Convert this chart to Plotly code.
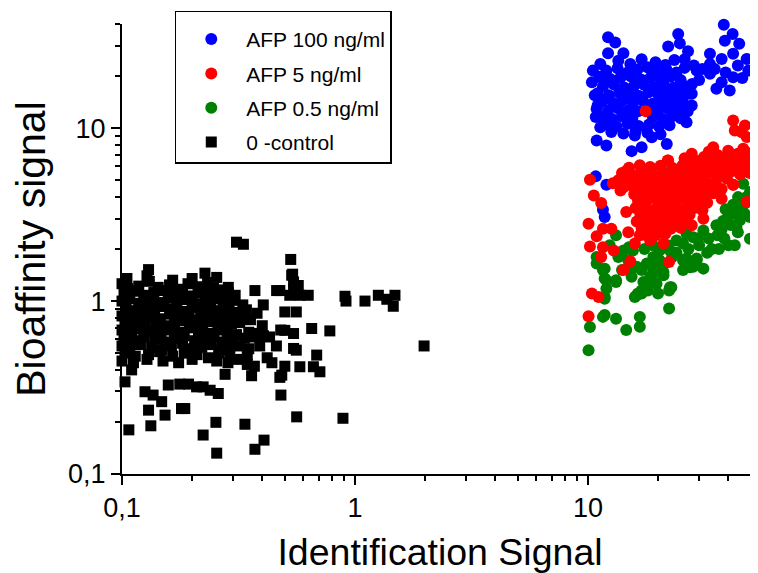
import plotly.graph_objects as go

# ---------------- data ----------------
ctrl_x = [
    0.100, 0.106, 0.118, 0.131, 0.143, 0.160, 0.176, 0.192, 0.212, 0.233, 0.247, 0.266,
    0.102, 0.112, 0.124, 0.137, 0.150, 0.165, 0.182, 0.200, 0.220, 0.241, 0.262, 0.286, 0.306,
    0.100, 0.108, 0.118, 0.130, 0.144, 0.158, 0.172, 0.190, 0.207, 0.228, 0.250, 0.272, 0.298, 0.330,
    0.104, 0.113, 0.125, 0.138, 0.151, 0.166, 0.183, 0.200, 0.218, 0.240, 0.262, 0.288, 0.315, 0.342,
    0.100, 0.108, 0.120, 0.132, 0.146, 0.160, 0.176, 0.193, 0.210, 0.230, 0.252, 0.276, 0.302, 0.330, 0.356,
    0.103, 0.114, 0.126, 0.140, 0.154, 0.168, 0.185, 0.203, 0.222, 0.245, 0.268, 0.295, 0.320,
    0.100, 0.110, 0.120, 0.133, 0.147, 0.162, 0.178, 0.195, 0.213, 0.235, 0.258, 0.283, 0.310, 0.350, 0.385,
    0.102, 0.112, 0.124, 0.138, 0.152, 0.168, 0.185, 0.205, 0.225, 0.248, 0.270, 0.300, 0.335, 0.370, 0.405,
    0.100, 0.108, 0.120, 0.134, 0.148, 0.163, 0.182, 0.200, 0.220, 0.242, 0.265, 0.290, 0.320, 0.350,
    0.103, 0.114, 0.130, 0.145, 0.165, 0.185, 0.210, 0.235, 0.260, 0.290, 0.315, 0.345,
    0.100, 0.112, 0.128, 0.150, 0.175, 0.200, 0.255, 0.285, 0.345,
    0.105, 0.130, 0.128, 0.227, 0.255, 0.286, 0.200, 0.165,
    0.38, 0.40, 0.43, 0.39, 0.42, 0.37, 0.44, 0.46, 0.48, 0.36,
    0.372, 0.404, 0.461, 0.535, 0.545, 0.530, 0.540, 0.545, 0.571, 0.525, 0.580, 0.630, 0.476,
    0.906, 0.915, 1.104, 1.26, 1.37, 1.485, 1.46, 1.98,
    0.500, 0.560, 0.652, 0.780, 0.685, 0.500, 0.545, 0.545, 0.560, 0.580, 0.663, 0.707, 0.500,
    0.485, 0.476, 0.481, 0.562, 0.888,
    0.310, 0.332, 0.107, 0.133, 0.130, 0.1255, 0.136, 0.148, 0.153, 0.180, 0.186, 0.158, 0.177,
    0.193, 0.209, 0.223, 0.239, 0.259, 0.277, 0.253, 0.223, 0.255, 0.337, 0.372, 0.407, 0.103, 0.110,
]
ctrl_y = [
    1.26, 1.18, 1.22, 1.30, 1.20, 1.24, 1.17, 1.26, 1.21, 1.28, 1.19, 1.16,
    1.10, 1.14, 1.08, 1.12, 1.15, 1.09, 1.13, 1.07, 1.11, 1.14, 1.06, 1.12, 1.08,
    1.00, 1.03, 0.97, 1.01, 0.98, 1.04, 0.99, 1.02, 0.96, 1.00, 1.03, 0.98, 1.01, 0.95,
    0.91, 0.88, 0.92, 0.89, 0.93, 0.90, 0.87, 0.91, 0.89, 0.92, 0.88, 0.90, 0.86, 0.89,
    0.82, 0.80, 0.83, 0.81, 0.79, 0.84, 0.80, 0.82, 0.78, 0.83, 0.81, 0.79, 0.82, 0.80, 0.78,
    0.75, 0.73, 0.76, 0.74, 0.72, 0.75, 0.77, 0.73, 0.74, 0.76, 0.72, 0.74, 0.75,
    0.68, 0.66, 0.69, 0.67, 0.65, 0.68, 0.66, 0.70, 0.67, 0.65, 0.68, 0.66, 0.64, 0.66, 0.65,
    0.61, 0.59, 0.62, 0.60, 0.58, 0.61, 0.63, 0.59, 0.60, 0.62, 0.58, 0.60, 0.61, 0.62, 0.63,
    0.55, 0.53, 0.56, 0.54, 0.52, 0.55, 0.57, 0.53, 0.54, 0.56, 0.52, 0.54, 0.55, 0.53,
    0.50, 0.48, 0.49, 0.51, 0.48, 0.50, 0.49, 0.47, 0.50, 0.48, 0.46, 0.49,
    0.45, 0.44, 0.46, 0.45, 0.44, 0.46, 0.45, 0.44, 0.43,
    1.35, 1.52, 1.40, 1.45, 1.37, 1.20, 1.35, 1.32,
    0.85, 0.72, 0.62, 0.55, 0.47, 0.42, 0.44, 0.55, 0.68, 0.37,
    1.15, 0.95, 1.15, 1.41, 1.18, 1.74, 1.43, 1.29, 1.23, 1.08, 1.08, 1.08, 1.15,
    1.066, 1.00, 1.00, 1.08, 1.024, 1.08, 0.933, 0.55,
    0.865, 0.865, 0.694, 0.672, 0.487, 0.677, 0.649, 0.532, 0.52, 0.417, 0.417, 0.39, 0.42,
    0.373, 0.362, 0.286, 0.214, 0.21,
    2.19, 2.13, 0.18, 0.19, 0.234, 0.299, 0.286, 0.262, 0.219, 0.239, 0.239, 0.327, 0.331,
    0.331, 0.319, 0.319, 0.305, 0.292, 0.377, 0.199, 0.168, 0.132, 0.194, 0.139, 0.157, 0.341, 0.40,
]

afp100_x = [
    13.5, 15.2, 17.0, 19.5, 21.5, 23.5,
    12.0, 13.4, 14.8, 16.3, 18.0, 19.8, 21.7, 24.0, 26.0,
    11.2, 12.5, 13.8, 15.3, 16.9, 18.6, 20.5, 22.6, 25.0,
    11.6, 12.9, 14.3, 15.8, 17.4, 19.2, 21.2, 23.4, 25.8, 28.0,
    11.0, 12.3, 13.6, 15.0, 16.5, 18.2, 20.1, 22.2, 24.5, 27.0,
    11.5, 12.8, 14.1, 15.6, 17.2, 19.0, 21.0, 23.2, 25.6,
    10.9, 12.2, 13.5, 14.9, 16.4, 18.1, 20.0, 22.0, 24.3, 26.8,
    11.4, 12.7, 14.0, 15.5, 19.0, 21.0, 23.0, 25.0,
    12.0, 13.3, 14.8, 16.5, 18.3, 20.2, 22.4,
    12.6, 14.2, 16.0, 18.0, 20.5,
    12.2, 13.1, 12.2, 14.2, 11.3, 10.5, 10.4, 11.8, 24.4, 24.8, 22.1, 26.9,
    38.3, 41.8, 38.7, 44.6, 33.4, 37.5, 42.0, 48.0, 48.8, 42.0, 37.5, 35.6, 40.6,
    29.3, 33.4, 27.9, 27.9, 26.5, 21.8, 15.4, 17.0, 10.9, 12.0, 15.9, 18.8, 10.8, 11.3,
    10.8, 12.0, 11.6, 11.8, 22.5, 28.5, 31.0, 30.0, 26.0, 33.4, 35.0, 39.0, 44.0, 46.0,
    11.0, 10.7,
]
afp100_y = [
    24.5, 23.5, 25.0, 24.0, 23.2, 24.8,
    21.5, 22.2, 21.0, 21.8, 22.5, 21.2, 21.9, 21.0, 22.3,
    19.8, 19.2, 19.6, 19.9, 19.1, 19.7, 19.3, 19.8, 19.0,
    17.4, 17.9, 17.2, 17.6, 17.8, 17.3, 17.7, 17.2, 17.6, 18.0,
    15.9, 15.5, 16.0, 15.7, 15.4, 16.1, 15.6, 15.9, 15.5, 15.8,
    14.3, 14.0, 14.5, 14.1, 14.4, 13.9, 14.2, 14.5, 14.0,
    12.9, 12.6, 13.0, 12.7, 12.5, 12.9, 12.6, 13.0, 12.8, 12.5,
    11.6, 11.3, 11.7, 11.4, 11.6, 11.3, 11.7, 11.4,
    10.5, 10.2, 10.6, 10.3, 10.5, 10.2, 10.4,
    9.5, 9.3, 9.6, 9.4, 9.2,
    33.5, 31.3, 27.1, 27.1, 23.5, 21.5, 18.4, 18.8, 35.0, 30.9, 29.6, 27.8,
    39.6, 35.0, 32.0, 30.7, 26.9, 25.1, 26.9, 25.1, 21.5, 19.7, 18.4, 16.9, 16.5,
    21.5, 20.6, 15.8, 13.5, 10.8, 8.1, 7.36, 7.76, 8.48, 7.94, 9.06, 8.86, 11.6, 10.1,
    5.26, 4.7, 3.37, 3.06, 5.56, 23.0, 22.0, 19.0, 25.0, 23.5, 22.0, 21.0, 23.0, 19.5,
    13.5, 15.5,
]

afp5_x = [
    33, 36, 40, 44, 47.5, 50,
    22, 26, 29, 31.5, 34.5, 38, 42, 45.5, 49,
    15, 16.7, 18.5, 20.5, 23, 25.5, 28, 30.5, 33, 36, 39.5, 43, 47, 51,
    14, 15.5, 17, 18.8, 20.8, 23, 25.3, 27.8, 30.5, 33.5, 37, 41, 45, 49.5,
    13.5, 15, 16.5, 18, 19.8, 21.8, 24, 26.4, 29, 32, 35.5, 39.5,
    14.2, 15.6, 17.1, 18.8, 20.7, 22.8, 25.1, 27.6, 30.3, 33.5, 37.5, 42,
    15.8, 17.4, 19.2, 21.2, 23.4, 25.8, 28.4, 31.3, 34.5,
    16.4, 18.1, 20.0, 22.1, 24.4, 26.9, 29.6, 32.5,
    16.0, 17.6, 19.4, 21.4, 23.6, 26.0, 28.6, 31.0,
    16.8, 18.5, 20.4, 22.5, 24.8, 27.3,
    16.2, 17.8, 19.6, 21.6, 23.8, 26.0,
    17.0, 18.7, 20.6, 22.7, 25.0,
    17.5, 19.5, 21.5,
    17.7, 42.0, 47.2, 48.0, 45.7, 42.7, 34.5, 27.9, 26.5, 22.1, 14.7, 18.5,
    44.9, 49.6, 46.4, 36.3, 32.9, 39.4, 10.2, 10.6, 11.4, 10.06, 14.6,
    11.6, 12.6, 10.9, 10.2, 11.6, 12.9, 11.4, 14.9, 16.7, 18.5, 21.1, 15.9,
    15.2, 14.2, 22.3, 10.4, 11.1, 10.06, 48.0, 37.5, 31.3, 27.9, 42.0, 37.0, 13.8, 12.8,
]
afp5_y = [
    7.3, 7.0, 7.4, 7.1, 7.3, 7.0,
    6.5, 6.7, 6.5, 6.8, 6.5, 6.7, 6.5, 6.8, 6.6,
    5.9, 6.1, 5.95, 6.05, 5.9, 6.1, 6.0, 5.9, 6.1, 6.0, 5.9, 6.1, 6.0, 5.9,
    5.5, 5.4, 5.6, 5.45, 5.55, 5.4, 5.6, 5.5, 5.4, 5.55, 5.45, 5.6, 5.4, 5.5,
    5.0, 5.1, 4.95, 5.05, 4.9, 5.1, 5.0, 4.95, 5.05, 4.9, 5.0, 5.1,
    4.55, 4.6, 4.5, 4.6, 4.5, 4.55, 4.6, 4.5, 4.55, 4.6, 4.45, 4.7,
    4.15, 4.2, 4.1, 4.2, 4.1, 4.15, 4.2, 4.1, 4.2,
    3.8, 3.85, 3.75, 3.8, 3.85, 3.75, 3.8, 3.7,
    3.45, 3.5, 3.4, 3.45, 3.5, 3.4, 3.45, 3.35,
    3.15, 3.1, 3.2, 3.15, 3.1, 3.15,
    2.88, 2.9, 2.85, 2.9, 2.88, 2.85,
    2.63, 2.6, 2.66, 2.62, 2.65,
    2.42, 2.4, 2.45,
    12.5, 11.06, 10.35, 8.87, 9.47, 9.7, 7.76, 7.1, 6.36, 6.5, 5.69, 5.69,
    7.1, 6.79, 7.6, 6.79, 6.36, 6.08, 5.03, 4.08, 3.69, 2.8, 3.27,
    2.62, 2.62, 2.37, 2.07, 2.05, 1.96, 1.8, 2.5, 2.4, 2.24, 2.15, 2.15,
    1.7, 1.51, 1.68, 1.105, 1.056, 0.817, 3.74, 3.91, 2.99, 2.74, 4.7, 4.4, 4.36, 4.8,
]

afp05_x = [
    46.4, 49.6, 44.1, 47.2, 49.6, 42.0, 44.9, 43.4, 49.6, 40.1,
    42.7, 35.6, 31.3, 28.3, 25.6, 24.0, 22.5, 25.6, 29.3, 31.3,
    27.4, 20.3, 19.1, 17.9, 19.1, 21.1, 17.3, 22.5, 20.0, 22.3,
    16.4, 15.9, 10.9, 11.8, 11.8, 13.2, 12.0, 11.8, 10.2, 11.6,
    11.8, 13.2, 14.6, 16.7, 16.7, 10.06, 14.2, 15.6, 14.9, 16.2,
    17.0, 13.2, 12.4, 19.7, 18.1, 17.0, 22.8, 22.3, 16.2, 17.0,
    17.9, 18.5, 19.7, 11.8, 12.0, 13.2, 11.6, 10.9, 15.4, 14.0,
    15.4, 25.6, 28.3, 29.3, 26.5, 18.5, 20.3, 19.1, 21.1, 33.0,
    36.0, 38.0, 40.0, 34.0, 30.0, 27.0, 23.0, 21.0, 24.0, 36.5,
    38.5, 45.5, 48.0, 47.0, 42.0, 44.0, 37.5, 32.5, 29.5, 26.5,
    22.0, 19.0, 17.5, 15.0, 13.5, 39.0, 41.0,
]
afp05_y = [
    4.77, 4.27, 3.99, 3.66, 3.06, 3.2, 2.93, 2.68, 2.29, 2.1,
    2.1, 2.74, 2.56, 2.34, 2.15, 2.24, 1.96, 1.72, 1.76, 1.54,
    1.57, 1.96, 1.8, 1.65, 1.51, 1.41, 1.29, 1.2, 1.105, 0.905,
    1.105, 1.056, 1.8, 1.54, 1.35, 1.32, 1.18, 1.056, 0.709, 0.81,
    0.83, 0.79, 0.68, 0.81, 0.71, 0.52, 1.96, 1.96, 1.72, 1.58,
    1.51, 2.4, 2.1, 1.26, 1.15, 1.105, 1.2, 1.15, 1.08, 1.15,
    1.23, 1.38, 1.47, 1.03, 1.32, 1.29, 1.51, 1.65, 1.38, 1.51,
    1.54, 1.51, 1.58, 1.72, 1.76, 1.65, 1.72, 1.54, 1.47, 2.3,
    2.4, 2.9, 3.1, 2.0, 2.1, 2.0, 1.8, 1.6, 1.9, 2.0,
    2.3, 3.4, 4.0, 3.2, 3.6, 2.5, 2.6, 1.9, 2.3, 2.45,
    2.1, 2.1, 2.0, 2.05, 1.8, 3.4, 2.75,
]

tick_vals = [0.1, 1, 10]
tick_text = ["0,1", "1", "10"]
x_minor = [0.2, 0.3, 0.4, 0.5, 0.6, 0.7, 0.8, 0.9, 2, 3, 4, 5, 6, 7, 8, 9, 20, 30, 40, 50]
y_minor = [0.2, 0.3, 0.4, 0.5, 0.6, 0.7, 0.8, 0.9, 2, 3, 4, 5, 6, 7, 8, 9, 20, 30, 40]

FONT = "Liberation Sans, Arial, sans-serif"

fig = go.Figure()
fig.add_trace(go.Scatter(
    x=ctrl_x, y=ctrl_y, mode="markers", name="0 -control", legendrank=4, legendgroup="g4",
    marker=dict(symbol="square", size=11, color="black", line=dict(width=0)),
    cliponaxis=False))
fig.add_trace(go.Scatter(
    x=afp05_x, y=afp05_y, mode="markers", name="AFP 0.5 ng/ml", legendrank=3, legendgroup="g3",
    marker=dict(symbol="circle", size=12, color="#008000", line=dict(width=0)),
    cliponaxis=False))
fig.add_trace(go.Scatter(
    x=afp100_x, y=afp100_y, mode="markers", name="AFP 100 ng/ml", legendrank=1, legendgroup="g1",
    marker=dict(symbol="circle", size=12, color="#0000FF", line=dict(width=0)),
    cliponaxis=False))
fig.add_trace(go.Scatter(
    x=afp5_x, y=afp5_y, mode="markers", name="AFP 5 ng/ml", legendrank=2, legendgroup="g2",
    marker=dict(symbol="circle", size=12, color="#FF0000", line=dict(width=0)),
    cliponaxis=False))

axis_common = dict(
    type="log", showgrid=False, zeroline=False, showline=True,
    linecolor="black", linewidth=2, ticks="outside", ticklen=9, tickwidth=2,
    tickcolor="black", tickmode="array", tickvals=tick_vals, ticktext=tick_text,
    tickfont=dict(family=FONT, size=27, color="black"),
)

# the page body has an 8px margin, so the figure is shifted by 8px; margins compensate
fig.update_layout(
    width=758, height=573,
    margin=dict(l=114, r=8, t=16, b=107, autoexpand=False),
    paper_bgcolor="white", plot_bgcolor="white",
    font=dict(family=FONT, color="black"),
    showlegend=True,
    legend=dict(
        x=0.083, y=1.029, xanchor="left", yanchor="top",
        bgcolor="white", bordercolor="black", borderwidth=1.5,
        font=dict(family=FONT, size=21, color="black"),
        itemwidth=60, traceorder="grouped", tracegroupgap=4,
        title=dict(text=" ", font=dict(size=5)),
    ),
    xaxis=dict(
        **axis_common, range=[-1, 1.73],
        minor=dict(tickmode="array", tickvals=x_minor, ticks="outside",
                   ticklen=5, tickwidth=1.5, tickcolor="black", showgrid=False),
        title=dict(text="Identification Signal",
                   font=dict(family=FONT, size=37.5, color="black"), standoff=16),
    ),
    yaxis=dict(
        **axis_common, range=[-1, 1.602],
        minor=dict(tickmode="array", tickvals=y_minor, ticks="outside",
                   ticklen=5, tickwidth=1.5, tickcolor="black", showgrid=False),
        title=dict(text="Bioaffinity signal",
                   font=dict(family=FONT, size=41, color="black"), standoff=12),
    ),
)

fig.write_html("out.html")
